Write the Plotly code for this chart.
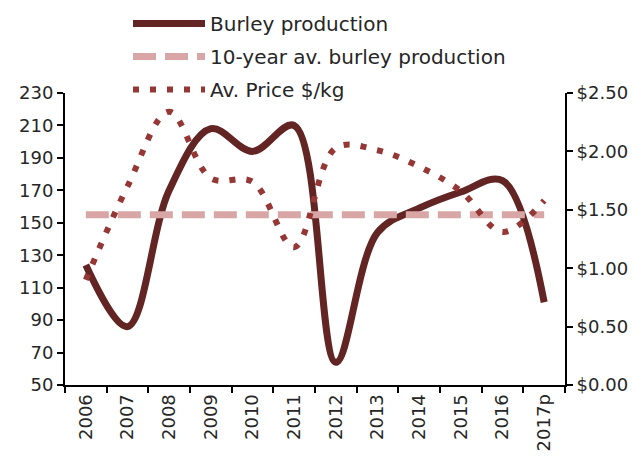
import plotly.graph_objects as go

years = ["2006", "2007", "2008", "2009", "2010", "2011", "2012", "2013", "2014", "2015", "2016", "2017p"]
production = [124, 86, 170, 208, 194, 210, 64, 144, 159, 169, 176, 101]
avg_production = [155] * 12
price = [0.90, 1.70, 2.34, 1.77, 1.74, 1.18, 2.03, 2.01, 1.87, 1.66, 1.31, 1.58]

FONT = "DejaVu Sans"

fig = go.Figure()
fig.add_trace(go.Scatter(
    x=years, y=production, name="Burley production", mode="lines",
    line=dict(color="#632523", width=7, shape="spline", smoothing=1.0),
    legendgroup="a",
))
fig.add_trace(go.Scatter(
    x=years, y=avg_production, name="10-year av. burley production", mode="lines",
    line=dict(color="#D9A6A6", width=7, dash="23px,9px"),
    legendgroup="b",
))
fig.add_trace(go.Scatter(
    x=years, y=price, name="Av. Price $/kg", mode="lines", yaxis="y2",
    line=dict(color="#953735", width=6, shape="spline", smoothing=1.0, dash="6px,11px"),
    legendgroup="c",
))

fig.update_layout(
    width=641, height=456,
    margin=dict(l=65, r=76, t=93, b=71, autoexpand=False),
    paper_bgcolor="white", plot_bgcolor="white",
    font=dict(family=FONT, size=18, color="#262626"),
    showlegend=True,
    legend=dict(
        xref="paper", yref="paper",
        x=(128 - 65) / 500, y=(385 - 4) / 292, xanchor="left", yanchor="top",
        font=dict(size=20, family=FONT, color="#262626"),
        bgcolor="rgba(0,0,0,0)", itemwidth=72, tracegroupgap=4,
    ),
    xaxis=dict(
        type="category", range=[-0.5, 11.5], showline=True, linecolor="black", linewidth=2,
        ticks="outside", tickson="boundaries", ticklen=6, tickcolor="black", tickwidth=2,
        tickangle=-90, showgrid=False, zeroline=False,
        tickfont=dict(size=18), mirror=False, automargin=False,
    ),
    yaxis=dict(
        range=[50, 230], dtick=20, tick0=50, showline=True, linecolor="black", linewidth=2,
        ticks="outside", ticklen=6, tickcolor="black", tickwidth=2,
        showgrid=False, zeroline=False, tickfont=dict(size=18), automargin=False,
    ),
    yaxis2=dict(
        range=[0, 2.5], dtick=0.5, overlaying="y", side="right",
        showline=True, linecolor="black", linewidth=2,
        ticks="outside", ticklen=6, tickcolor="black", tickwidth=2,
        tickprefix="$", tickformat=".2f",
        showgrid=False, zeroline=False, tickfont=dict(size=18), automargin=False,
    ),
)

fig.write_html(
    "out.html",
    config={"displayModeBar": False},
    post_script="document.body.style.margin='0px';",
)
